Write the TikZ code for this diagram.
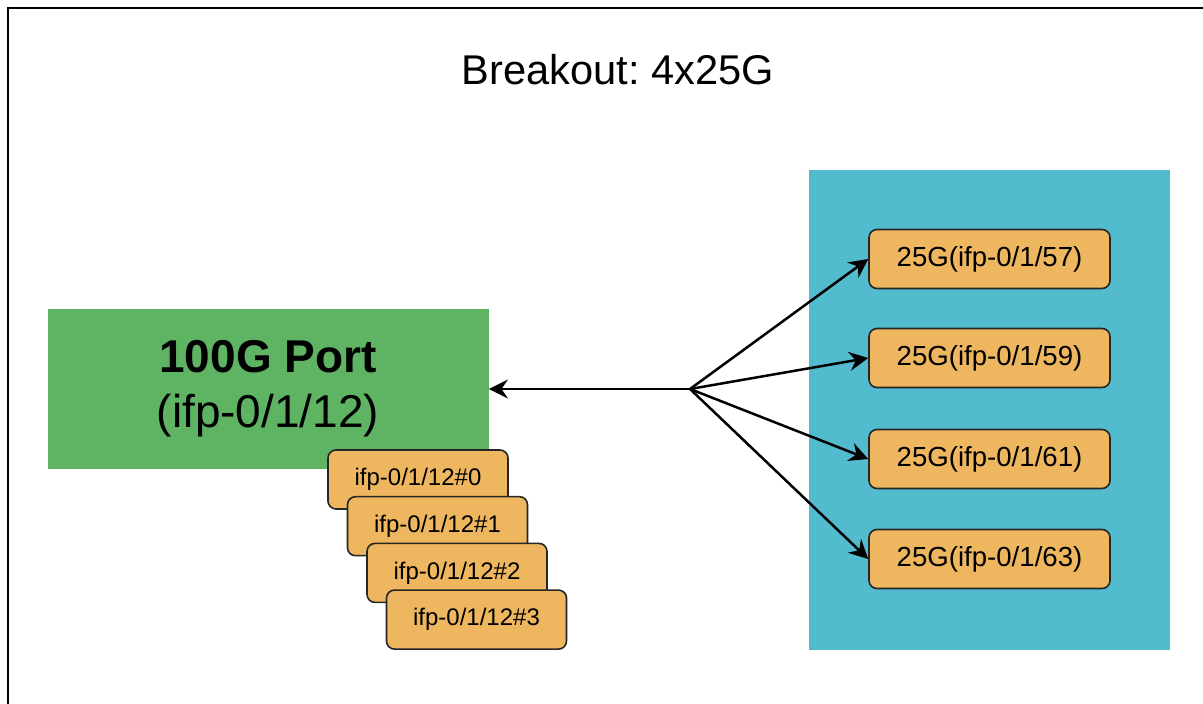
\documentclass[tikz,border=0pt]{standalone}
\usepackage{fontspec}
\setmainfont{Liberation Sans}
\usetikzlibrary{arrows.meta}
\definecolor{portgreen}{HTML}{5EB463}
\definecolor{laneblue}{HTML}{52BBCE}
\definecolor{laneorange}{HTML}{EEB75F}
\frenchspacing

\begin{document}
\begin{tikzpicture}[x=0.5pt,y=-0.5pt,every node/.style={inner sep=0pt},lane/.style={rectangle,rounded corners=4pt,draw=black!85,fill=laneorange,line width=0.8pt,minimum width=120.5pt,minimum height=29.5pt,font=\fontsize{13.8}{16}\selectfont},sub/.style={lane,minimum width=90pt,font=\fontsize{12}{14}\selectfont},link/.style={-{Stealth[length=9.5pt,width=9.5pt,inset=3.2pt]},line width=1.25pt}]
  \useasboundingbox (0,0) rectangle (1203,704);
  \draw[line width=1.1pt] (8,730) -- (8,8) -- (1230,8);
  \node[font=\fontsize{20.8}{25}\selectfont] (title) at (618,70) {Breakout: 4x25G};
  \node[fill=laneblue,minimum width=180.5pt,minimum height=240pt] (grp) at (989.5,410) {};
  \node[fill=portgreen,minimum width=220.5pt,minimum height=80pt,align=center,font=\fontsize{23}{27.5}\selectfont] (port) at (268,389) {\textbf{100G Port}\\(ifp-0/1/12)};
  \foreach \i in {0,...,3}{\node[sub] (sub\i) at ({418+19.5*\i},{479.5+46.7*\i}) {ifp-0/1/12\#\i};}
  \foreach \n/\y in {57/259,59/358,61/459,63/559}{\node[lane] (p\n) at (989.5,\y) {25G(ifp-0/1/\n)};}
  \coordinate (hub) at (690,389);
  \draw[link] (hub) -- (port.east);
  \foreach \n in {57,59,61,63}{\draw[link] (hub) -- (p\n.west);}
\end{tikzpicture}
\end{document}
